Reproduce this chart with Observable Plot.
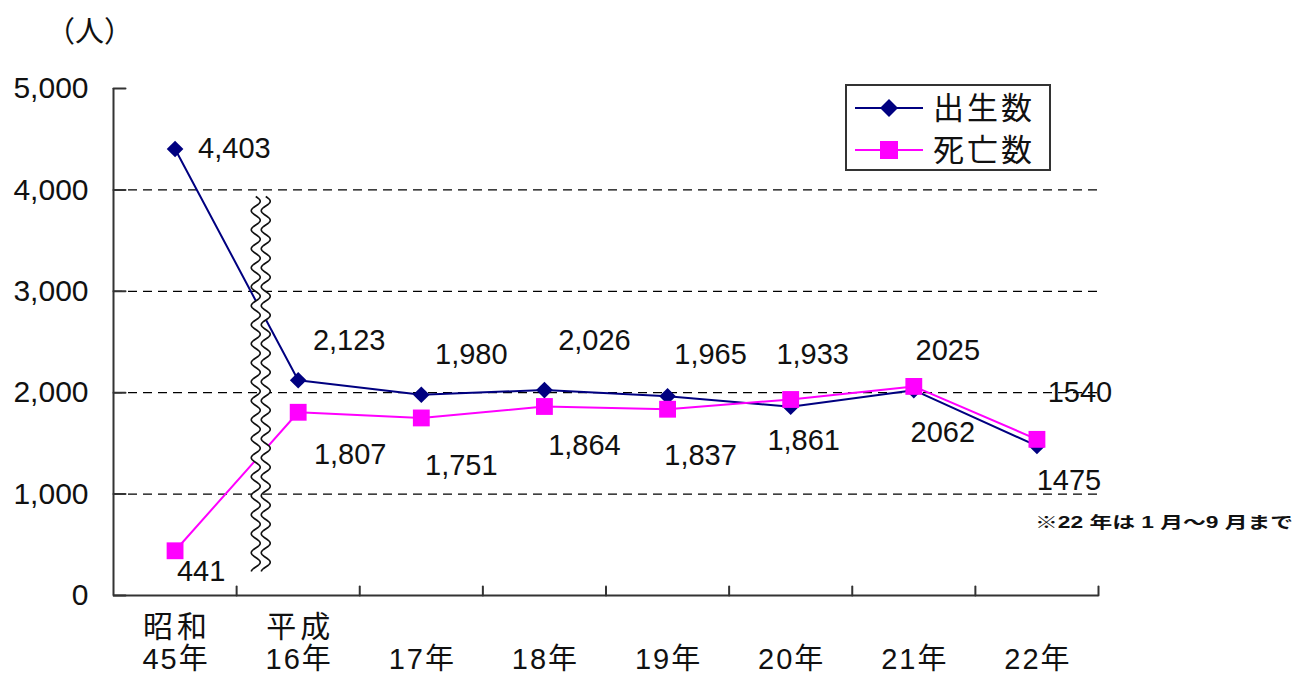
<!DOCTYPE html>
<html><head><meta charset="utf-8">
<script src="https://cdn.jsdelivr.net/npm/d3@7"></script>
<script src="https://cdn.jsdelivr.net/npm/@observablehq/plot@0.6"></script>
<style>body{margin:0;background:#fff;} svg{display:block;}</style>
</head><body><div id="chart"></div>
<script>
// ---- data ----
const eraLabels = ["昭和","平成","","","","","",""];
const yearLabels = ["45年","16年","17年","18年","19年","20年","21年","22年"];
const births = [4403,2123,1980,2026,1965,1861,2025,1475];
const deaths = [441,1807,1751,1864,1837,1933,2062,1540];
const topLabels = ["4,403","2,123","1,980","2,026","1,965","1,933","2025","1540"];
const bottomLabels = ["441","1,807","1,751","1,864","1,837","1,861","2062","1475"];
const yTicks = [0,1000,2000,3000,4000,5000];
const gridValues = [1000,2000,3000,4000];
const seriesNames = ["出生数","死亡数"];
const unitLabel = "（人）";
const noteText = "※22 年は 1 月〜9 月まで";

// ---- layout / style ----
const NAVY = "#000080", PINK = "#ff00ff", AXIS = "#333", TXT = "#111";
const FONT = "'Liberation Sans','Noto Sans CJK JP',sans-serif";
const topOff = [[23,0],[51,-40],[50,-40],[50,-49],[43,-42],[22,-45],[34,-36],[43,-47]];
const botOff = [[26,21],[52,42],[40,48],[40,39],[33,46],[13,34],[29,43],[32,35]];

const birthRows = births.map((v,i)=>({i, v}));
const deathRows = deaths.map((v,i)=>({i, v}));
const boundaries = yearLabels.map((_,i)=>i+0.5);
const tickShape = {draw(ctx, l){ ctx.moveTo(0,0); ctx.lineTo(0,-l); }};

const labelMarks = [];
yearLabels.forEach((_,i)=>{
  const hi = Math.max(births[i], deaths[i]), lo = Math.min(births[i], deaths[i]);
  labelMarks.push(Plot.text([{i, v: hi, t: topLabels[i]}], {
    x:"i", y:"v", text:"t", dx: topOff[i][0], dy: topOff[i][1],
    textAnchor: i===0 ? "start" : "middle", fontSize: 29, fill: TXT}));
  labelMarks.push(Plot.text([{i, v: lo, t: bottomLabels[i]}], {
    x:"i", y:"v", text:"t", dx: botOff[i][0], dy: botOff[i][1],
    fontSize: 29, fill: TXT}));
});

const chart = Plot.plot({
  width: 1307, height: 688,
  marginLeft: 113, marginRight: 209, marginTop: 88, marginBottom: 93,
  style: {fontFamily: FONT, background: "#fff", overflow: "visible"},
  x: {type: "linear", domain: [-0.5, 7.5], axis: null},
  y: {domain: [0, 5000], axis: null},
  marks: [
    Plot.ruleY(gridValues, {stroke: "#000", strokeWidth: 1.2, strokeDasharray: "9,6"}),
    Plot.ruleX([-0.5], {y1: 0, y2: 5000, stroke: AXIS, strokeWidth: 2}),
    Plot.ruleY([0], {x1: -0.5, x2: 7.5, stroke: AXIS, strokeWidth: 2}),
    Plot.vector(yTicks, {x: -0.5, y: d=>d, length: 12, rotate: 90, anchor: "start", shape: tickShape, stroke: AXIS, strokeWidth: 2}),
    Plot.vector(boundaries, {x: d=>d, y: 0, length: 9, rotate: 0, anchor: "start", shape: tickShape, stroke: AXIS, strokeWidth: 2}),
    Plot.text(yTicks, {frameAnchor: "left", y: d=>d, text: d=>d3.format(",")(d), dx: -25, textAnchor: "end", fontSize: 30, fill: TXT}),
    Plot.text(eraLabels, {x: (d,i)=>i, frameAnchor: "bottom", text: d=>d, dy: 41, fontSize: 30, fill: TXT}),
    Plot.text(yearLabels, {x: (d,i)=>i, frameAnchor: "bottom", text: d=>d, dy: 73, fontSize: 29, fill: TXT}),
    Plot.line(birthRows, {x: "i", y: "v", stroke: NAVY, strokeWidth: 2}),
    Plot.line(deathRows, {x: "i", y: "v", stroke: PINK, strokeWidth: 2}),
    Plot.dot(birthRows, {x: "i", y: "v", symbol: "diamond2", r: 7.5, fill: NAVY, stroke: null}),
    Plot.dot(deathRows, {x: "i", y: "v", symbol: "square", r: 9.5, fill: PINK, stroke: null}),
    ...labelMarks
  ]
});

const svg = d3.select(chart);
svg.selectAll("text").filter(function(){ const t = this.textContent; return t && eraLabels.includes(t); })
  .style("letter-spacing", "4px").attr("dx", 2);
svg.selectAll("text").filter(function(){ const t = this.textContent; return t && yearLabels.includes(t); })
  .style("letter-spacing", "2px").attr("dx", 1);

// ---- wavy break ----
const xs = chart.scale("x"), ys = chart.scale("y");
const cx = xs.apply(0.7), yTop = ys.apply(3930), yBot = ys.apply(230);
const amp = 4.5, period = 19;
const ptsL = [], ptsR = [];
for (let y = yTop; y <= yBot; y += 1) {
  const w = amp * Math.sin(2 * Math.PI * (y - yTop) / period);
  ptsL.push([cx - 5 + w, y]); ptsR.push([cx + 5 + w, y]);
}
const brk = svg.append("g");
brk.append("path").attr("d", d3.line()(ptsL.concat(ptsR.slice().reverse())) + "Z").attr("fill", "#fff");
brk.append("path").attr("d", d3.line()(ptsL)).attr("fill", "none").attr("stroke", "#111").attr("stroke-width", 1.6);
brk.append("path").attr("d", d3.line()(ptsR)).attr("fill", "none").attr("stroke", "#111").attr("stroke-width", 1.6);

// ---- unit label & note ----
svg.append("text").attr("x", 46).attr("y", 32).attr("dy", "0.35em").attr("font-size", 29)
  .attr("text-anchor", "start").attr("fill", TXT).attr("font-family", FONT).text(unitLabel);
svg.append("text").attr("x", 1035).attr("y", 522).attr("dy", "0.35em").attr("font-size", 16)
  .attr("text-anchor", "start").attr("font-weight", 600).attr("fill", TXT).attr("font-family", FONT)
  .attr("textLength", 258).attr("lengthAdjust", "spacingAndGlyphs").text(noteText);

// ---- legend ----
const lg = svg.append("g");
lg.append("rect").attr("x", 846).attr("y", 85).attr("width", 204).attr("height", 85)
  .attr("fill", "#fff").attr("stroke", AXIS).attr("stroke-width", 2);
const rowsY = [108, 150];
[NAVY, PINK].forEach((c, k) => {
  const y = rowsY[k];
  lg.append("line").attr("x1", 855).attr("x2", 923).attr("y1", y).attr("y2", y).attr("stroke", c).attr("stroke-width", 2);
  if (k === 0) lg.append("path").attr("d", `M889,${y-9}L898,${y}L889,${y+9}L880,${y}Z`).attr("fill", c);
  else lg.append("rect").attr("x", 880).attr("y", y-9).attr("width", 18).attr("height", 18).attr("fill", c);
  lg.append("text").attr("x", 933).attr("y", y).attr("dy", "0.36em").attr("font-size", 31)
    .attr("text-anchor", "start").style("letter-spacing", "3px").attr("fill", TXT).attr("font-family", FONT).text(seriesNames[k]);
});

document.getElementById("chart").appendChild(chart);
</script>
</body></html>
